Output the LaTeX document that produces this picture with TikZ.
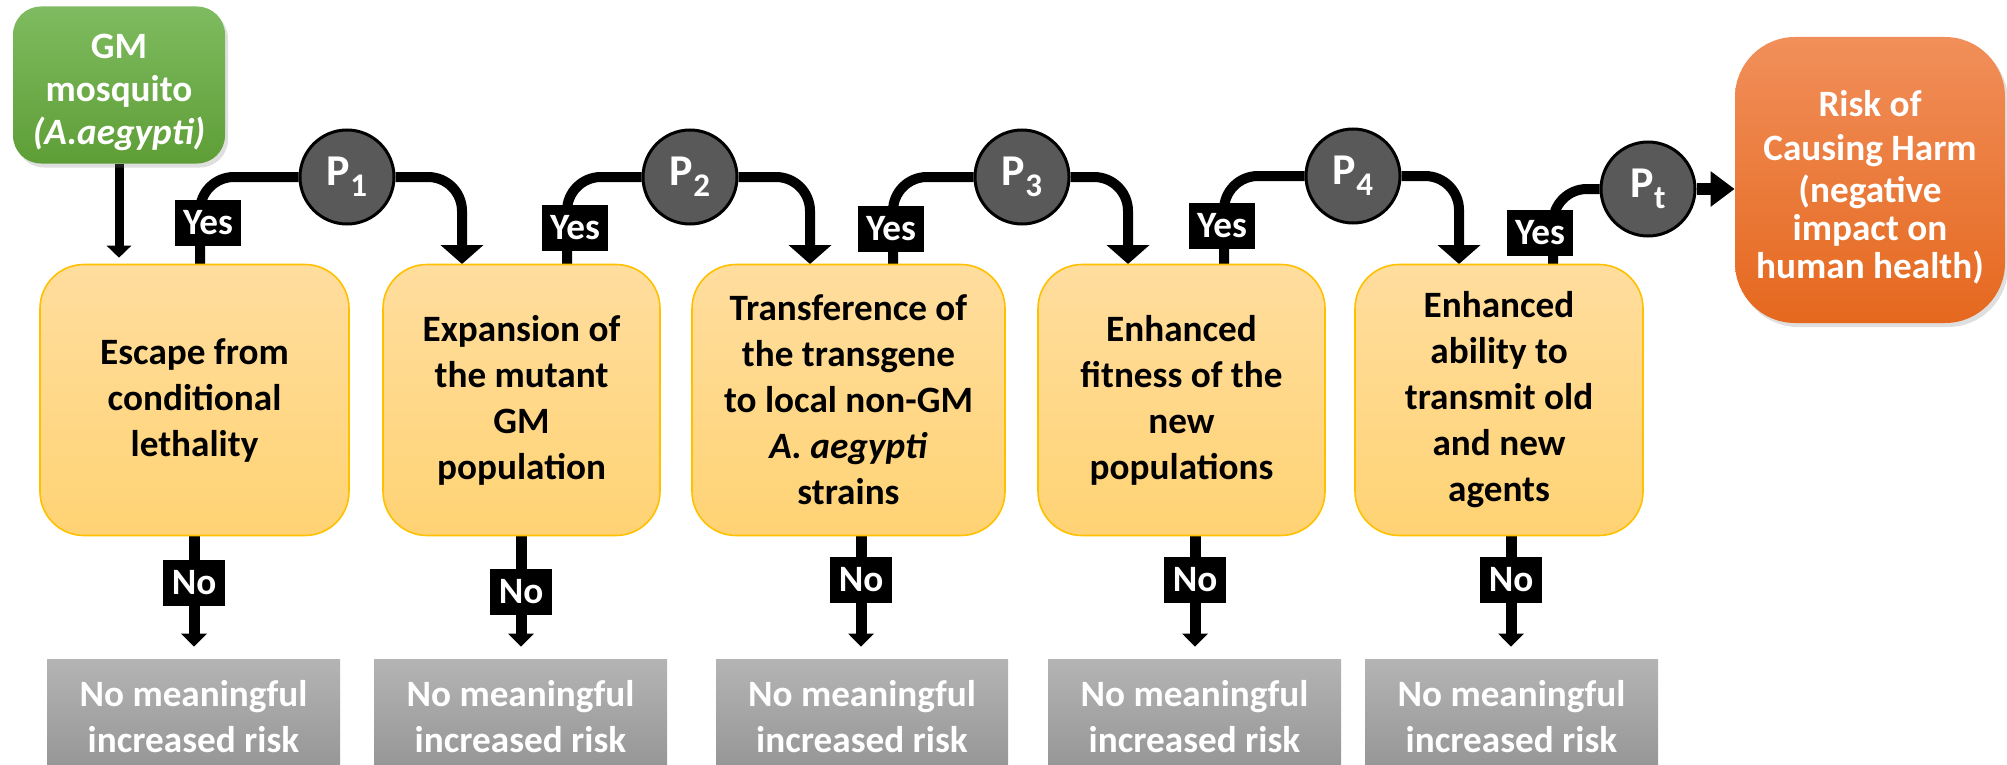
\documentclass[tikz,border=0pt]{standalone}
\usepackage{fontspec}
\setmainfont{Carlito}
\usepackage{xcolor}
\definecolor{boxtop}{RGB}{255,221,158}
\definecolor{boxbot}{RGB}{255,211,116}
\definecolor{boxedge}{RGB}{255,192,0}
\definecolor{gmtop}{RGB}{127,187,96}
\definecolor{gmbot}{RGB}{94,158,54}
\definecolor{risktop}{RGB}{241,143,90}
\definecolor{riskbot}{RGB}{229,104,30}
\definecolor{greytop}{RGB}{180,180,180}
\definecolor{greybot}{RGB}{148,148,148}
\definecolor{pgrey}{RGB}{89,89,89}
\usetikzlibrary{arrows.meta}
\usetikzlibrary{backgrounds}
\usetikzlibrary{shadows}
\tikzset{>=stealth}
\tikzset{
  stepbox/.style={rounded corners=22pt, draw=boxedge, line width=0.8pt,
    top color=boxtop, bottom color=boxbot, minimum height=135.5pt,
    align=center, inner sep=0pt}}
\tikzset{
  gmbox/.style={rounded corners=14pt, top color=gmtop, bottom color=gmbot,
    text=white, align=center, minimum width=106pt, minimum height=78.5pt,
    drop shadow={opacity=0.25, shadow xshift=1.5pt, shadow yshift=-2pt}}}
\tikzset{
  riskbox/.style={rounded corners=30pt, top color=risktop, bottom color=riskbot,
    text=white, align=center, minimum width=135pt, minimum height=143pt,
    drop shadow={opacity=0.25, shadow xshift=1.5pt, shadow yshift=-2pt}}}
\tikzset{
  nobox/.style={top color=greytop, bottom color=greybot, text=white,
    align=center, minimum width=146.5pt, minimum height=58pt, inner sep=0pt}}
\tikzset{
  pnode/.style={circle, fill=pgrey, draw=black, line width=1.5pt, text=white,
    minimum size=47pt, inner sep=0pt, font=\bfseries\fontsize{22}{24}\selectfont}}
\tikzset{
  tag/.style={fill=black, text=white, minimum width=33pt, minimum height=23pt,
    inner sep=0pt}}
\tikzset{
  yesflow/.style={line width=5pt, rounded corners=17pt},
  yesarrow/.style={yesflow, -{Triangle[width=21pt,length=9.5pt]}},
  noflow/.style={line width=5.5pt, -{Triangle[width=12.5pt,length=6.5pt]}, shorten >=6pt},
  gmflow/.style={line width=4.5pt, -{Triangle[width=12pt,length=6pt]}, shorten >=3pt},
  ptflow/.style={line width=6pt, -{Triangle[width=17pt,length=12pt]}}}
\newcommand{\Pn}[1]{P\raisebox{-5.5pt}{\fontsize{16.5}{16.5}\selectfont #1}}
\newcommand{\topstrut}{\rule{0pt}{20pt}}

\begin{document}
\begin{tikzpicture}[x=0.5pt,y=-0.5pt,font=\bfseries\fontsize{18.6}{23}\selectfont]
    \useasboundingbox (0,0) rectangle (2007,765);
    % start and end
    \node[gmbox] (gm) at (119,85) {\topstrut GM\\[-1.5pt]mosquito\\[-1.5pt]\textit{(A.aegypti)}};
    \node[riskbox] (risk) at (1870,180) {\topstrut Risk of\\[-1pt]Causing Harm\\[-2pt](negative\\[-4pt]impact on\\[-4pt]human health)};
    % the five steps
    \node[stepbox, minimum width=154.5pt] (b1) at (194.5,400) {Escape from\\conditional\\lethality};
    \node[stepbox, minimum width=138.5pt] (b2) at (521.5,400) {Expansion of\\the mutant\\GM\\population};
    \node[stepbox, minimum width=156.5pt] (b3) at (848.5,400) {Transference of\\the transgene\\to local non-GM\\\textit{A. aegypti}\\strains};
    \node[stepbox, minimum width=143.5pt] (b4) at (1181.5,400) {Enhanced\\fitness of the\\new\\populations};
    \node[stepbox, minimum width=144pt] (b5) at (1499,400) {Enhanced\\ability to\\transmit old\\and new\\agents};
    % dead ends
    \node[nobox] (g1) at (193.5,717) {No meaningful\\increased risk};
    \node[nobox] (g2) at (520.5,717) {No meaningful\\increased risk};
    \node[nobox, minimum width=146pt] (g3) at (862,717) {No meaningful\\increased risk};
    \node[nobox] (g4) at (1194.5,717) {No meaningful\\increased risk};
    \node[nobox] (g5) at (1511.5,717) {No meaningful\\increased risk};
    % probabilities
    \node[pnode] (p1) at (347,177) {\Pn{1}};
    \node[pnode] (p2) at (690,177) {\Pn{2}};
    \node[pnode] (p3) at (1022,177) {\Pn{3}};
    \node[pnode] (p4) at (1353,176) {\Pn{4}};
    \node[pnode] (pt) at (1648,189) {\Pn{t}};
    % yes / no tags
    \node[tag] (yes1) at (208,223) {Yes};
    \node[tag] (yes2) at (575,228) {Yes};
    \node[tag] (yes3) at (891,229) {Yes};
    \node[tag] (yes4) at (1222,226) {Yes};
    \node[tag] (yes5) at (1540,233) {Yes};
    \node[tag, minimum width=31pt] (no1) at (194,583) {No};
    \node[tag, minimum width=31pt] (no2) at (521,592) {No};
    \node[tag, minimum width=31pt] (no3) at (861,580) {No};
    \node[tag, minimum width=31pt] (no4) at (1195,580) {No};
    \node[tag, minimum width=31pt] (no5) at (1511,580) {No};
    \coordinate (s1) at (200,265);
    \coordinate (s2) at (567,265);
    \coordinate (s3) at (893,265);
    \coordinate (s4) at (1224,265);
    \coordinate (s5) at (1553,265);
    \coordinate (t2) at (462,264);
    \coordinate (t3) at (810,264);
    \coordinate (t4) at (1128,264);
    \coordinate (t5) at (1459,264);
    \begin{scope}[on background layer]
        \draw[gmflow] (gm.south) -- (gm.south |- b1.north);
        \draw[yesflow] (s1) |- (p1.west);
        \draw[yesarrow] (p1.east) -| (t2);
        \draw[yesflow] (s2) |- (p2.west);
        \draw[yesarrow] (p2.east) -| (t3);
        \draw[yesflow] (s3) |- (p3.west);
        \draw[yesarrow] (p3.east) -| (t4);
        \draw[yesflow] (s4) |- (p4.west);
        \draw[yesarrow] (p4.east) -| (t5);
        \draw[yesflow] (s5) |- (pt.west);
        \draw[ptflow] (pt.east) -- (pt.east -| risk.west);
        \draw[noflow] (no1 |- b1.south) -- (no1 |- g1.north);
        \draw[noflow] (no2 |- b2.south) -- (no2 |- g2.north);
        \draw[noflow] (no3 |- b3.south) -- (no3 |- g3.north);
        \draw[noflow] (no4 |- b4.south) -- (no4 |- g4.north);
        \draw[noflow] (no5 |- b5.south) -- (no5 |- g5.north);
    \end{scope}
\end{tikzpicture}
\end{document}
